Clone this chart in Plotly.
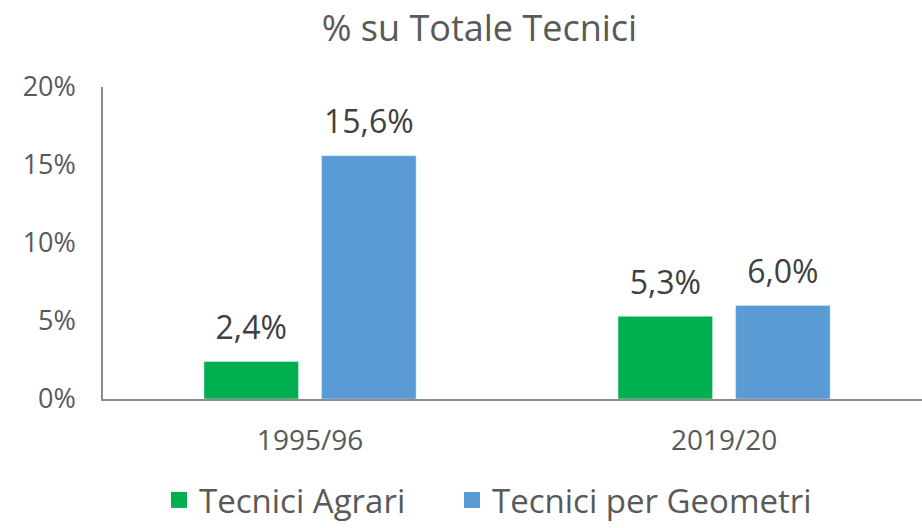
import plotly.graph_objects as go

categories = ["1995/96", "2019/20"]
agrari = [2.4, 5.3]
geometri = [15.6, 6.0]
series_names = ["Tecnici Agrari", "Tecnici per Geometri"]
colors = ["#00B050", "#5B9BD5"]
y_ticks = [0, 5, 10, 15, 20]
y_tick_labels = ["0%", "5%", "10%", "15%", "20%"]

FONT = "Open Sans"
GREY = "#595959"
legend_ids = ["legend", "legend2"]

fig = go.Figure()
for i, (name, vals, col) in enumerate(zip(series_names, [agrari, geometri], colors)):
    grp = f"g{i}"
    fig.add_trace(go.Bar(
        x=categories, y=vals, name=name, marker_color=col,
        offsetgroup=grp, showlegend=False,
    ))
    # value labels, grouped the same way as the bars
    fig.add_trace(go.Scatter(
        x=categories, y=vals, mode="markers+text", offsetgroup=grp,
        text=[f"{v:.1f}%".replace(".", ",") for v in vals],
        textposition="top center",
        textfont=dict(family=FONT, size=32, color="#404040"),
        marker=dict(size=22, opacity=0), showlegend=False, hoverinfo="skip",
        cliponaxis=False,
    ))
    # legend entry
    fig.add_trace(go.Scatter(
        x=[None], y=[None], mode="markers", name=name, offsetgroup=grp,
        marker=dict(symbol="square", size=20, color=col),
        legend=legend_ids[i],
    ))

legend_style = dict(orientation="h", xref="container", yref="container",
                    xanchor="left", y=-0.008, yanchor="bottom",
                    font=dict(family=FONT, size=33, color=GREY),
                    itemsizing="trace", itemwidth=30, bgcolor="rgba(0,0,0,0)")

fig.update_layout(
    width=922, height=528,
    separators=",.",
    plot_bgcolor="white", paper_bgcolor="white",
    margin=dict(l=103, r=0, t=87, b=129),
    barmode="group", bargap=0.432, bargroupgap=0.196,
    scattermode="group",
    font=dict(family=FONT, color=GREY),
    title=dict(text="% su Totale Tecnici", x=0.52, xanchor="center",
               y=1 - 28 / 528, yanchor="middle",
               font=dict(family=FONT, size=36, color=GREY)),
    legend=dict(x=159 / 922, **legend_style),
    legend2=dict(x=452 / 922, **legend_style),
)
fig.update_xaxes(range=[-0.5, 1.478], showline=True, linecolor="#8C8C8C",
                 linewidth=1.5, ticks="", showgrid=False,
                 tickfont=dict(family=FONT, size=28, color=GREY),
                 ticklabelstandoff=16)
fig.update_yaxes(range=[0, 20], tickvals=y_ticks, ticktext=y_tick_labels,
                 showline=True, linecolor="#8C8C8C", linewidth=1.5,
                 showgrid=False, zeroline=False, ticks="",
                 tickfont=dict(family=FONT, size=27, color=GREY),
                 ticklabelstandoff=20)

fig.write_html("out.html", config={"displayModeBar": False},
               post_script="document.body.style.margin='0';document.body.style.overflow='hidden';")
